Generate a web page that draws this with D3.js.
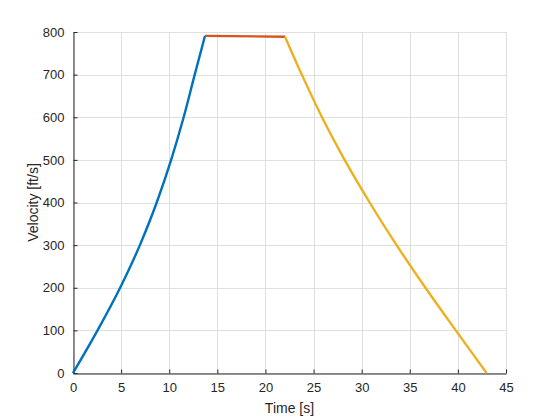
<!DOCTYPE html>
<html>
<head>
<meta charset="utf-8">
<script src="https://cdn.jsdelivr.net/npm/d3@7"></script>
<style>
body { margin: 0; background: #fff; }
</style>
</head>
<body>
<div id="chart"></div>
<script>
// Data
var accelTime = [0, 2.55, 4.9, 6.95, 8.7, 10.2, 11.5, 12.65, 13.72]
var accelVel  = [0, 100, 200, 300, 400, 500, 600, 700, 791]

var cruiseTime = [13.72, 22.03]
var cruiseVel  = [791, 789]

var decelTime = [22.03, 23.78, 25.88, 28.23, 30.83, 33.63, 36.63, 39.78, 42.98]
var decelVel  = [789, 700, 600, 500, 400, 300, 200, 100, 0]

var xTicks = [0, 5, 10, 15, 20, 25, 30, 35, 40, 45]
var yTicks = [0, 100, 200, 300, 400, 500, 600, 700, 800]

var seriesColors = ['#0072BD', '#D95319', '#EDB120']

// Layout
var width = 560, height = 420
var margin = {left: 73, right: 54, top: 32, bottom: 47}
var font = 'Arial, "Liberation Sans", Helvetica, sans-serif'
var axisColor = '#262626'

var svg = d3.select('#chart').append('svg')
	.attr('width', width)
	.attr('height', height)

svg.append('rect').attr('width', width).attr('height', height).attr('fill', '#fff')

var x = d3.scaleLinear().domain([0, 45]).range([margin.left, width - margin.right])
var y = d3.scaleLinear().domain([0, 800]).range([height - margin.bottom, margin.top])

// Grid
var grid = svg.append('g').attr('stroke', '#dfdfdf').attr('stroke-width', 1)
xTicks.forEach(function(t){
	grid.append('line')
		.attr('x1', Math.round(x(t)) + 0.5).attr('x2', Math.round(x(t)) + 0.5)
		.attr('y1', y(0)).attr('y2', y(800))
})
yTicks.forEach(function(t){
	grid.append('line')
		.attr('y1', Math.round(y(t)) + 0.5).attr('y2', Math.round(y(t)) + 0.5)
		.attr('x1', x(0)).attr('x2', x(45))
})

// Axes
var xAxis = d3.axisBottom(x).tickValues(xTicks).tickSizeInner(-4).tickSizeOuter(0).tickPadding(9)
var yAxis = d3.axisLeft(y).tickValues(yTicks).tickSizeInner(-4).tickSizeOuter(0).tickPadding(9)

var gx = svg.append('g')
	.attr('transform', 'translate(0,' + (Math.round(y(0)) + 0.5) + ')')
	.call(xAxis)
var gy = svg.append('g')
	.attr('transform', 'translate(' + (Math.round(x(0)) + 0.5) + ',0)')
	.call(yAxis)

;[gx, gy].forEach(function(g){
	g.selectAll('path').attr('stroke', axisColor)
	g.selectAll('line').attr('stroke', axisColor)
	g.selectAll('text')
		.attr('fill', axisColor)
		.style('font-family', font)
		.style('font-size', '13px')
})

// Series
var line = d3.line()
	.x(function(d){ return x(d[0]) })
	.y(function(d){ return y(d[1]) })
	.curve(d3.curveMonotoneX)

var series = [
	d3.zip(accelTime, accelVel),
	d3.zip(cruiseTime, cruiseVel),
	d3.zip(decelTime, decelVel)
]

series.forEach(function(pts, i){
	svg.append('path')
		.attr('d', line(pts))
		.attr('fill', 'none')
		.attr('stroke', seriesColors[i])
		.attr('stroke-width', 2.4)
		.attr('stroke-linejoin', 'round')
})

// Labels
svg.append('text')
	.attr('x', (x(0) + x(45)) / 2)
	.attr('y', 413)
	.attr('text-anchor', 'middle')
	.attr('fill', axisColor)
	.style('font-family', font)
	.style('font-size', '14px')
	.text('Time [s]')

svg.append('text')
	.attr('transform', 'translate(38,' + ((y(0) + y(800)) / 2) + ') rotate(-90)')
	.attr('text-anchor', 'middle')
	.attr('fill', axisColor)
	.style('font-family', font)
	.style('font-size', '14px')
	.text('Velocity [ft/s]')
</script>
</body>
</html>
